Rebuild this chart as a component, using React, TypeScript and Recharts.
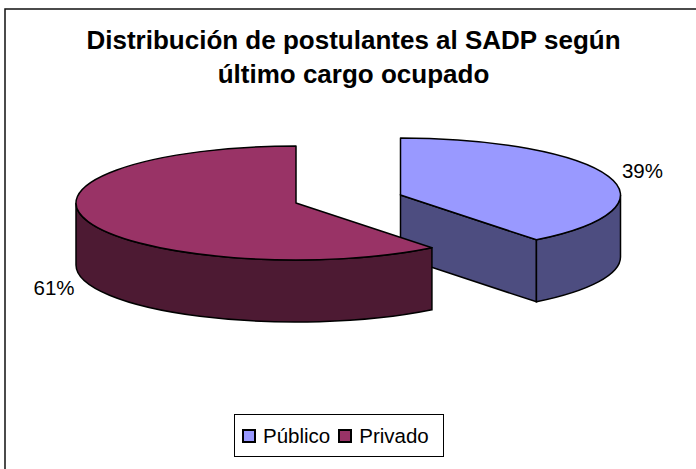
import { PieChart, Pie, Cell, Legend } from 'recharts'

/* ─── Data ─────────────────────────────────────────────────────── */

const CATEGORIES = ['Público', 'Privado']
const SHARES = [39.4, 60.6]
const TITLE_LINES = ['Distribución de postulantes al SADP según', 'último cargo ocupado']

const rows = CATEGORIES.map((name, i) => ({ name, value: SHARES[i] }))

/* ─── Theme constants ──────────────────────────────────────────── */

const WIDTH = 696
const HEIGHT = 469
const TOP_COLORS = ['#9999ff', '#993366']
const WALL_COLORS = ['#4d4d80', '#4d1a33']
const RADIUS = 220
const TILT = 0.259
const DEPTH = 62
const OUTLINE = '#000'
const FONT = '"Liberation Sans", Arial, sans-serif'

// slices are pulled apart along the long axis of the ellipse
const EXPLODE: Record<string, [number, number]> = {
  Público: [52.25, -4],
  Privado: [-52.25, 4],
}
const LABEL_SHIFT: Record<string, [number, number]> = {
  Público: [34, -6],
  Privado: [-34, 66],
}

/* ─── 3D slice ─────────────────────────────────────────────────── */

function Slice3D(props: any) {
  const { cx, cy, outerRadius, startAngle, endAngle, fill, name, index } = props
  const [dx, dy] = EXPLODE[name]
  const x0 = cx + dx
  const y0 = cy + dy
  const rx = outerRadius
  const ry = outerRadius * TILT
  // clockwise from twelve o'clock
  const from = 90 - startAngle
  const to = 90 - endAngle
  const at = (deg: number) => {
    const r = (deg * Math.PI) / 180
    return [x0 + rx * Math.sin(r), y0 - ry * Math.cos(r)]
  }
  const [sx, sy] = at(from)
  const [ex, ey] = at(to)
  const large = to - from > 180 ? 1 : 0
  const wall = WALL_COLORS[index]

  const radialWall = (deg: number) => {
    const [px, py] = at(deg)
    return (
      <path
        d={`M${x0},${y0}L${px},${py}L${px},${py + DEPTH}L${x0},${y0 + DEPTH}Z`}
        fill={wall}
        stroke={OUTLINE}
        strokeWidth={1.5}
      />
    )
  }

  // only the front half of the rim faces the viewer
  const rimFrom = Math.max(from, 90)
  const rimTo = Math.min(to, 270)
  let rim = null
  if (rimTo > rimFrom) {
    const [ax, ay] = at(rimFrom)
    const [bx, by] = at(rimTo)
    const big = rimTo - rimFrom > 180 ? 1 : 0
    rim = (
      <path
        d={`M${ax},${ay}A${rx},${ry} 0 ${big} 1 ${bx},${by}L${bx},${by + DEPTH}A${rx},${ry} 0 ${big} 0 ${ax},${ay + DEPTH}Z`}
        fill={wall}
        stroke={OUTLINE}
        strokeWidth={1.5}
      />
    )
  }

  const sinOf = (deg: number) => Math.sin((deg * Math.PI) / 180)

  return (
    <g>
      {sinOf(from) < -1e-6 && radialWall(from)}
      {sinOf(to) > 1e-6 && radialWall(to)}
      {rim}
      <path
        d={`M${x0},${y0}L${sx},${sy}A${rx},${ry} 0 ${large} 1 ${ex},${ey}Z`}
        fill={fill}
        stroke={OUTLINE}
        strokeWidth={1.5}
        strokeLinejoin="round"
      />
    </g>
  )
}

/* ─── Labels and legend ────────────────────────────────────────── */

function sliceLabel(props: any) {
  const { cx, cy, outerRadius, midAngle, percent, name } = props
  const r = (midAngle * Math.PI) / 180
  const [ex, ey] = EXPLODE[name]
  const [lx, ly] = LABEL_SHIFT[name]
  const x = cx + ex + outerRadius * Math.cos(r) + lx
  const y = cy + ey - outerRadius * TILT * Math.sin(r) + ly
  return (
    <text
      x={x}
      y={y}
      textAnchor="middle"
      dominantBaseline="central"
      fontFamily={FONT}
      fontSize={20.5}
      fill="#000"
    >
      {`${Math.round(percent * 100)}%`}
    </text>
  )
}

function LegendBox({ payload }: any) {
  return (
    <div
      style={{
        boxSizing: 'border-box',
        width: 210,
        height: 43,
        border: '1px solid #000',
        background: '#fff',
        display: 'flex',
        alignItems: 'center',
        paddingLeft: 7,
        fontFamily: FONT,
        fontSize: 20.5,
        color: '#000',
      }}
    >
      {(payload ?? []).map((entry: any) => (
        <span key={entry.value} style={{ display: 'flex', alignItems: 'center', marginRight: 8 }}>
          <span
            style={{
              boxSizing: 'border-box',
              width: 14,
              height: 14,
              marginRight: 7,
              background: TOP_COLORS[CATEGORIES.indexOf(entry.value)],
              border: '2px solid #000',
            }}
          />
          {entry.value}
        </span>
      ))}
    </div>
  )
}

/* ─── Chart ────────────────────────────────────────────────────── */

export default function App() {
  return (
    <div style={{ position: 'absolute', left: 0, top: 0, width: WIDTH, height: HEIGHT, background: '#fff' }}>
      <PieChart width={WIDTH} height={HEIGHT} margin={{ top: 0, right: 0, bottom: 0, left: 0 }}>
        {/* the frame only shows on its top and left sides */}
        <path d={`M${WIDTH},9H5V${HEIGHT}`} fill="none" stroke="#111" strokeWidth={1.5} />
        {TITLE_LINES.map((line, i) => (
          <text
            key={line}
            x={353.5}
            y={49 + i * 34}
            textAnchor="middle"
            fontFamily={FONT}
            fontWeight="bold"
            fontSize={26}
            fill="#000"
          >
            {line}
          </text>
        ))}
        <Pie
          data={rows}
          dataKey="value"
          nameKey="name"
          cx={348.25}
          cy={199}
          outerRadius={RADIUS}
          startAngle={90}
          endAngle={-270}
          stroke="none"
          shape={Slice3D}
          label={sliceLabel}
          labelLine={false}
          isAnimationActive={false}
        >
          {rows.map((row, i) => (
            <Cell key={row.name} fill={TOP_COLORS[i]} />
          ))}
        </Pie>
        <Legend
          content={<LegendBox />}
          itemSorter={null}
          layout="horizontal"
          wrapperStyle={{ position: 'absolute', left: 234, top: 414, width: 210, height: 43, bottom: 'auto' }}
        />
      </PieChart>
    </div>
  )
}
